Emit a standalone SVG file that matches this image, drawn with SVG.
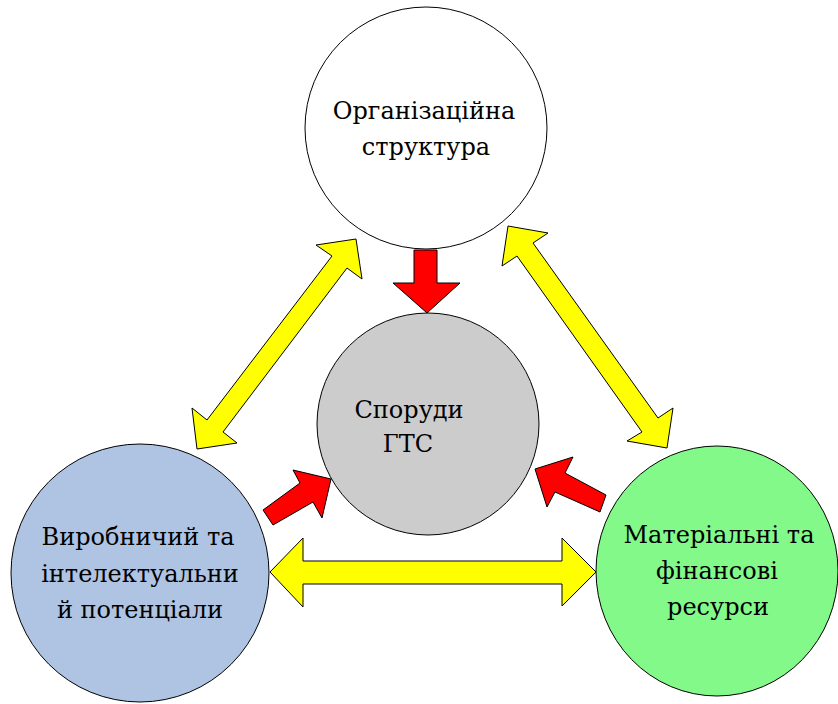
<svg xmlns="http://www.w3.org/2000/svg" width="838" height="704" viewBox="0 0 838 704">
  <style>
    .node { stroke: #000; stroke-width: 1; }
    .lbl { font-family: 'DejaVu Serif', serif; font-size: 24px; fill: #000; text-anchor: middle; }
    .both { fill: #FFFF00; stroke: #000; stroke-width: 1; stroke-linejoin: miter; }
    .into { fill: #FF0000; stroke: #000; stroke-width: 1; stroke-linejoin: miter; }
  </style>
  <rect width="838" height="704" fill="#fff"/>

  <g id="org">
    <circle class="node" cx="426" cy="128" r="121" fill="#fff"/>
    <text class="lbl" x="424" y="119">Організаційна</text>
    <text class="lbl" x="426" y="155">структура</text>
  </g>

  <g id="gts">
    <circle class="node" cx="428" cy="424" r="111" fill="#CCCCCC"/>
    <text class="lbl" x="409" y="418">Споруди</text>
    <text class="lbl" x="408" y="452">ГТС</text>
  </g>

  <g id="potential">
    <circle class="node" cx="140" cy="573" r="129" fill="#AFC4E3"/>
    <text class="lbl" x="138" y="545">Виробничий та</text>
    <text class="lbl" x="140" y="582">інтелектуальни</text>
    <text class="lbl" x="140" y="618">й потенціали</text>
  </g>

  <g id="resources">
    <ellipse class="node" cx="717" cy="571" rx="121" ry="125" fill="#83F98A"/>
    <text class="lbl" x="719" y="543">Матеріальні та</text>
    <text class="lbl" x="717" y="579">фінансові</text>
    <text class="lbl" x="718" y="615">ресурси</text>
  </g>

  <g id="connectors">
    <!-- two-way links between outer circles -->
    <polygon class="both" points="356,239 362,279 347,268 223,432 237,443 197,449 192,408 207,420 332,256 316,245"/>
    <polygon class="both" points="508,226 548,233 533,243 658,418 673,408 667,448 627,441 642,432 517,256 502,266"/>
    <polygon class="both" points="270,572 303,538 303,561 562,561 562,538 596,572 562,606 562,584 303,584 303,607"/>
    <!-- one-way links into the centre -->
    <polygon class="into" points="414,250 437,250 437,283 460,283 427,313 393,283 414,283"/>
    <polygon class="into" points="263,510 300,483 293,470 331,479 322,518 313,502 273,525"/>
    <polygon class="into" points="606,495 565,473 573,457 535,469 547,507 555,492 600,512"/>
  </g>
</svg>
